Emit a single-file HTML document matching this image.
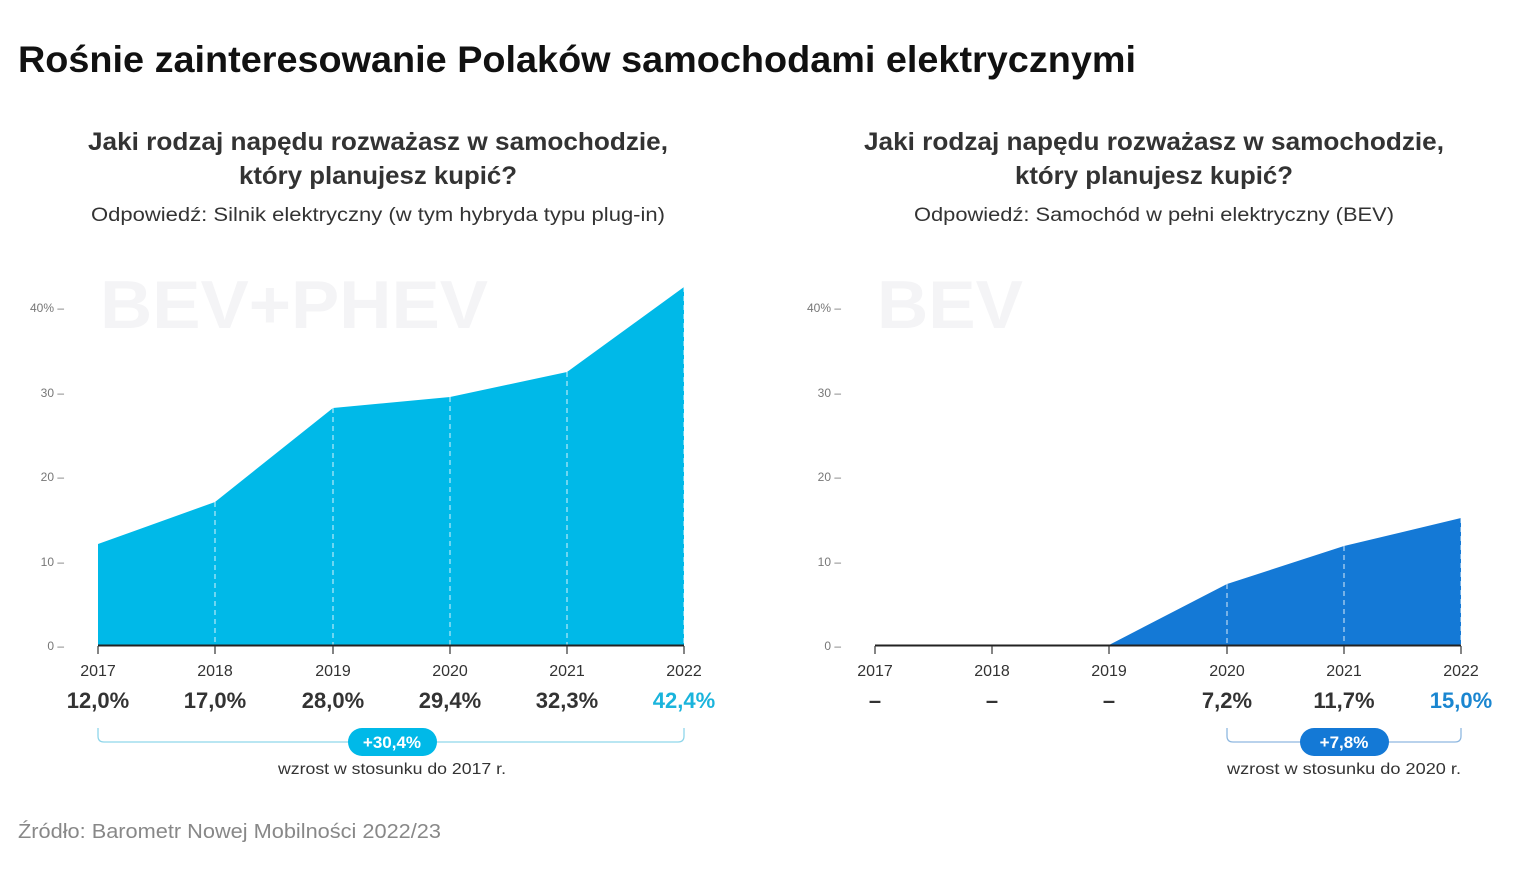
<!DOCTYPE html>
<html><head><meta charset="utf-8"><style>
body{margin:0;width:1536px;height:864px;background:#fff;overflow:hidden;font-family:"Liberation Sans",sans-serif}
</style></head><body>
<svg width="1536" height="864" viewBox="0 0 1536 864" xmlns="http://www.w3.org/2000/svg" font-family="Liberation Sans, sans-serif">
<text x="18" y="72" font-size="37" font-weight="bold" fill="#111" textLength="1118" lengthAdjust="spacingAndGlyphs">Rośnie zainteresowanie Polaków samochodami elektrycznymi</text>
<g text-anchor="middle" fill="#333">
<text x="378" y="150" font-size="25" font-weight="bold" textLength="580" lengthAdjust="spacingAndGlyphs">Jaki rodzaj napędu rozważasz w samochodzie,</text>
<text x="378" y="184" font-size="25" font-weight="bold" textLength="278" lengthAdjust="spacingAndGlyphs">który planujesz kupić?</text>
<text x="378" y="221" font-size="19" textLength="574" lengthAdjust="spacingAndGlyphs">Odpowiedź: Silnik elektryczny (w tym hybryda typu plug-in)</text>
<text x="1154" y="150" font-size="25" font-weight="bold" textLength="580" lengthAdjust="spacingAndGlyphs">Jaki rodzaj napędu rozważasz w samochodzie,</text>
<text x="1154" y="184" font-size="25" font-weight="bold" textLength="278" lengthAdjust="spacingAndGlyphs">który planujesz kupić?</text>
<text x="1154" y="221" font-size="19" textLength="480" lengthAdjust="spacingAndGlyphs">Odpowiedź: Samochód w pełni elektryczny (BEV)</text>
</g>
<text x="100" y="328" font-size="68" font-weight="bold" fill="#f4f4f6" textLength="388" lengthAdjust="spacingAndGlyphs">BEV+PHEV</text>
<text x="877" y="328" font-size="68" font-weight="bold" fill="#f4f4f6" textLength="146" lengthAdjust="spacingAndGlyphs">BEV</text>
<g font-size="12" fill="#777" text-anchor="end">
<text x="64" y="312">40% –</text><text x="64" y="397">30 –</text><text x="64" y="481">20 –</text><text x="64" y="566">10 –</text><text x="64" y="650">0 –</text>
<text x="841" y="312">40% –</text><text x="841" y="397">30 –</text><text x="841" y="481">20 –</text><text x="841" y="566">10 –</text><text x="841" y="650">0 –</text>
</g>
<polygon points="98,645 98,544 215,502 333,408 450,397 567,372 684,287 684,645" fill="#00b9e8"/>
<polygon points="1109,645 1227,584 1344,546 1461,518 1461,645" fill="#1479d6"/>
<g stroke="#fff" stroke-dasharray="5,4" stroke-width="1.2" opacity="0.7">
<line x1="215" y1="502" x2="215" y2="645"/><line x1="333" y1="408" x2="333" y2="645"/><line x1="450" y1="397" x2="450" y2="645"/><line x1="567" y1="372" x2="567" y2="645"/><line x1="684" y1="287" x2="684" y2="645"/>
<line x1="1227" y1="584" x2="1227" y2="645"/><line x1="1344" y1="546" x2="1344" y2="645"/><line x1="1461" y1="518" x2="1461" y2="645"/>
</g>
<line x1="98" y1="645.5" x2="684" y2="645.5" stroke="#222" stroke-width="2"/>
<line x1="875" y1="645.5" x2="1461" y2="645.5" stroke="#222" stroke-width="2"/>
<g stroke="#333" stroke-width="1.2">
<line x1="98" y1="646" x2="98" y2="654"/><line x1="215" y1="646" x2="215" y2="654"/><line x1="333" y1="646" x2="333" y2="654"/><line x1="450" y1="646" x2="450" y2="654"/><line x1="567" y1="646" x2="567" y2="654"/><line x1="684" y1="646" x2="684" y2="654"/>
<line x1="875" y1="646" x2="875" y2="654"/><line x1="992" y1="646" x2="992" y2="654"/><line x1="1109" y1="646" x2="1109" y2="654"/><line x1="1227" y1="646" x2="1227" y2="654"/><line x1="1344" y1="646" x2="1344" y2="654"/><line x1="1461" y1="646" x2="1461" y2="654"/>
</g>
<g text-anchor="middle" fill="#333" font-size="16">
<text x="98" y="676">2017</text><text x="215" y="676">2018</text><text x="333" y="676">2019</text><text x="450" y="676">2020</text><text x="567" y="676">2021</text><text x="684" y="676">2022</text>
<text x="875" y="676">2017</text><text x="992" y="676">2018</text><text x="1109" y="676">2019</text><text x="1227" y="676">2020</text><text x="1344" y="676">2021</text><text x="1461" y="676">2022</text>
</g>
<g text-anchor="middle" fill="#333" font-size="22" font-weight="bold">
<text x="98" y="708">12,0%</text><text x="215" y="708">17,0%</text><text x="333" y="708">28,0%</text><text x="450" y="708">29,4%</text><text x="567" y="708">32,3%</text><text x="684" y="708" fill="#1ab4dc">42,4%</text>
<text x="875" y="708">–</text><text x="992" y="708">–</text><text x="1109" y="708">–</text><text x="1227" y="708">7,2%</text><text x="1344" y="708">11,7%</text><text x="1461" y="708" fill="#1a86d0">15,0%</text>
</g>
<path d="M98,728 V736 Q98,742 104,742 H678 Q684,742 684,736 V728" fill="none" stroke="#8fd6ea" stroke-width="1.3"/>
<path d="M1227,728 V736 Q1227,742 1233,742 H1455 Q1461,742 1461,736 V728" fill="none" stroke="#8fb8e0" stroke-width="1.3"/>
<rect x="348" y="728" width="89" height="28" rx="14" fill="#00b9e8"/>
<rect x="1300" y="728" width="89" height="28" rx="14" fill="#1479d6"/>
<g text-anchor="middle" font-size="17" font-weight="bold" fill="#fff">
<text x="392" y="748">+30,4%</text><text x="1344" y="748">+7,8%</text>
</g>
<g text-anchor="middle" font-size="16" fill="#333">
<text x="392" y="774" textLength="228" lengthAdjust="spacingAndGlyphs">wzrost w stosunku do 2017 r.</text><text x="1344" y="774" textLength="234" lengthAdjust="spacingAndGlyphs">wzrost w stosunku do 2020 r.</text>
</g>
<text x="18" y="838" font-size="20" fill="#888" textLength="423" lengthAdjust="spacingAndGlyphs">Źródło: Barometr Nowej Mobilności 2022/23</text>
</svg>
</body></html>
